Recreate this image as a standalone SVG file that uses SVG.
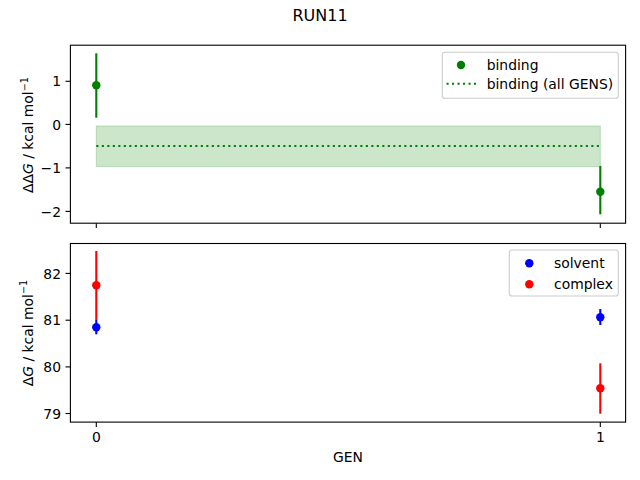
<svg xmlns="http://www.w3.org/2000/svg" width="640" height="480" viewBox="0 0 640 480">
<style>
text{font-family:"DejaVu Sans","Liberation Sans",sans-serif;font-size:13.9px;fill:#000}
.ax{fill:none;stroke:#000;stroke-width:1.1}
.tick{stroke:#000;stroke-width:1.1}
.yt{text-anchor:end}
.xt{text-anchor:middle}
.eg{stroke:#008000;stroke-width:2.1}
.eb{stroke:#0000ff;stroke-width:2.1}
.er{stroke:#ff0000;stroke-width:2.1}
.leg{fill:#fff;fill-opacity:0.8;stroke:#cccccc;stroke-width:1.1}
</style>
<rect width="640" height="480" fill="#fff"/>
<text x="320" y="21" text-anchor="middle" style="font-size:16px">RUN11</text>

<g id="top-axes">
  <g id="band">
    <rect x="96.3" y="126" width="504" height="40.5" fill="#008000" fill-opacity="0.2" stroke="#008000" stroke-opacity="0.2" stroke-width="1.1"/>
    <line x1="96.3" y1="146" x2="600.3" y2="146" stroke="#008000" stroke-width="2.1" stroke-dasharray="2.1,3.4"/>
  </g>
  <g id="binding">
    <line class="eg" x1="96.3" y1="53.3" x2="96.3" y2="117.7"/>
    <circle cx="96.3" cy="85.3" r="4.2" fill="#008000"/>
    <line class="eg" x1="600.3" y1="166" x2="600.3" y2="214.3"/>
    <circle cx="600.3" cy="191.7" r="4.2" fill="#008000"/>
  </g>
  <rect class="ax" x="70.4" y="45.2" width="555.2" height="178"/>
  <g id="top-ticks">
    <line class="tick" x1="70.4" y1="81.3" x2="65.5" y2="81.3"/>
    <line class="tick" x1="70.4" y1="124.4" x2="65.5" y2="124.4"/>
    <line class="tick" x1="70.4" y1="167.9" x2="65.5" y2="167.9"/>
    <line class="tick" x1="70.4" y1="211.4" x2="65.5" y2="211.4"/>
    <line class="tick" x1="96.3" y1="223.2" x2="96.3" y2="228.1"/>
    <line class="tick" x1="600.3" y1="223.2" x2="600.3" y2="228.1"/>
    <text class="yt" x="61" y="86.4">1</text>
    <text class="yt" x="61" y="129.5">0</text>
    <text class="yt" x="61" y="173">−1</text>
    <text class="yt" x="61" y="216.5">−2</text>
  </g>
  <text transform="translate(33.3,135) rotate(-90)" text-anchor="middle">ΔΔ<tspan font-style="italic">G</tspan> / kcal mol<tspan dy="-5.5" style="font-size:9.7px">−1</tspan></text>
  <g id="legend-top">
    <rect class="leg" x="442.3" y="52.3" width="176" height="46" rx="2.8"/>
    <circle cx="461" cy="65" r="4.2" fill="#008000"/>
    <text x="486.7" y="69.5">binding</text>
    <line x1="446.5" y1="83.7" x2="476" y2="83.7" stroke="#008000" stroke-width="2.1" stroke-dasharray="2.1,3.4"/>
    <text x="486.7" y="88.6">binding (all GENS)</text>
  </g>
</g>

<g id="bottom-axes">
  <g id="solvent">
    <line class="eb" x1="96.3" y1="319.3" x2="96.3" y2="334.3"/>
    <circle cx="96.3" cy="327.3" r="4.2" fill="#0000ff"/>
    <line class="eb" x1="600.3" y1="309" x2="600.3" y2="325"/>
    <circle cx="600.3" cy="317.3" r="4.2" fill="#0000ff"/>
  </g>
  <g id="complex">
    <line class="er" x1="96.3" y1="251" x2="96.3" y2="319.5"/>
    <circle cx="96.3" cy="285.3" r="4.2" fill="#ff0000"/>
    <line class="er" x1="600.3" y1="363.3" x2="600.3" y2="413.7"/>
    <circle cx="600.3" cy="388.3" r="4.2" fill="#ff0000"/>
  </g>
  <rect class="ax" x="70.4" y="243.5" width="555.2" height="178.6"/>
  <g id="bottom-ticks">
    <line class="tick" x1="70.4" y1="273.4" x2="65.5" y2="273.4"/>
    <line class="tick" x1="70.4" y1="320.2" x2="65.5" y2="320.2"/>
    <line class="tick" x1="70.4" y1="366.9" x2="65.5" y2="366.9"/>
    <line class="tick" x1="70.4" y1="413.5" x2="65.5" y2="413.5"/>
    <line class="tick" x1="96.3" y1="422.1" x2="96.3" y2="427"/>
    <line class="tick" x1="600.3" y1="422.1" x2="600.3" y2="427"/>
    <text class="yt" x="61" y="278.5">82</text>
    <text class="yt" x="61" y="325.3">81</text>
    <text class="yt" x="61" y="372">80</text>
    <text class="yt" x="61" y="418.6">79</text>
    <text class="xt" x="96.3" y="442">0</text>
    <text class="xt" x="600.3" y="442">1</text>
  </g>
  <text transform="translate(32.5,333) rotate(-90)" text-anchor="middle">Δ<tspan font-style="italic">G</tspan> / kcal mol<tspan dy="-5.5" style="font-size:9.7px">−1</tspan></text>
  <text x="348" y="461.7" text-anchor="middle">GEN</text>
  <g id="legend-bottom">
    <rect class="leg" x="509.3" y="250" width="109" height="46" rx="2.8"/>
    <circle cx="529.3" cy="263.3" r="4.2" fill="#0000ff"/>
    <text x="554" y="267.6">solvent</text>
    <circle cx="529.3" cy="284.3" r="4.2" fill="#ff0000"/>
    <text x="554" y="288.6">complex</text>
  </g>
</g>
</svg>
